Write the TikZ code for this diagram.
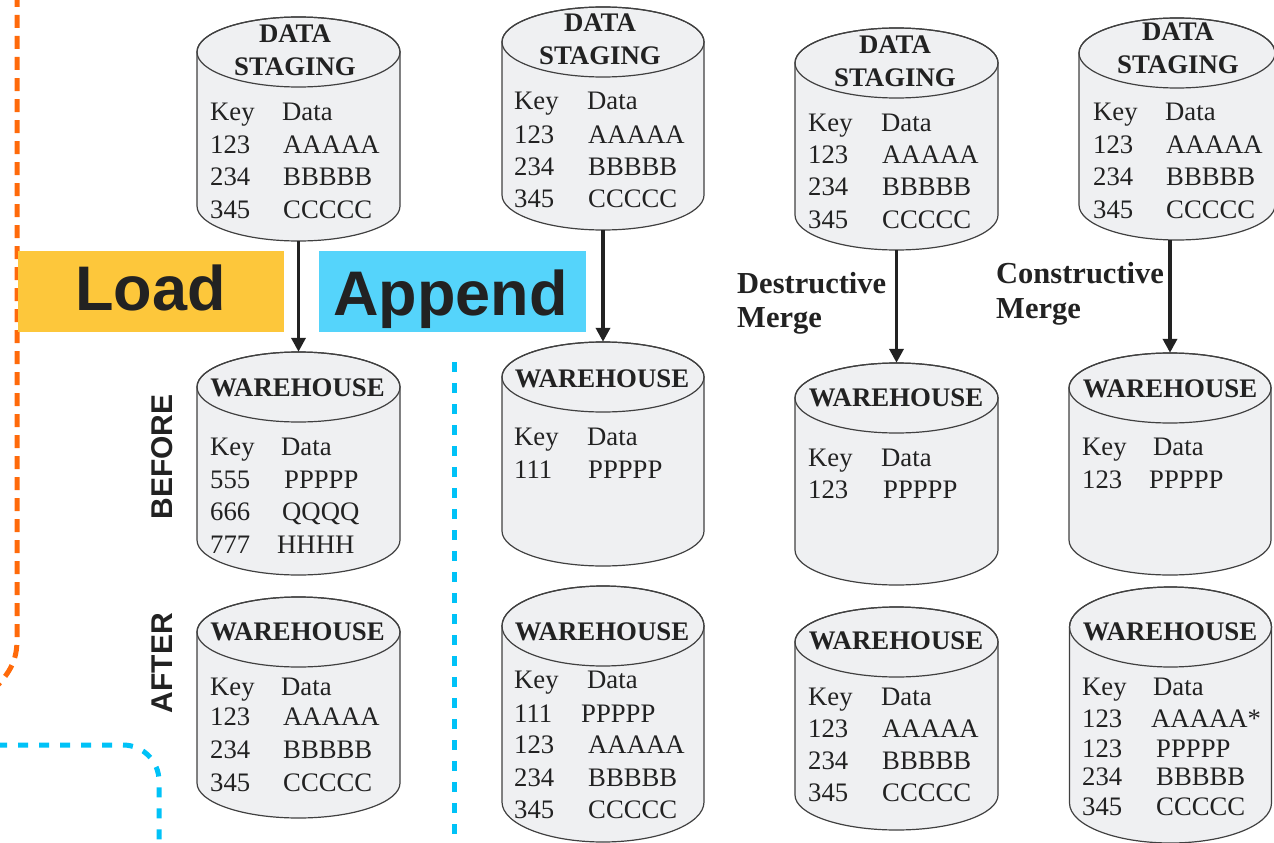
\documentclass[tikz,border=0pt]{standalone}
\usepackage{fontspec}
\setmainfont{Liberation Serif}
\newfontfamily\hv{Liberation Sans}
\usetikzlibrary{arrows.meta}
\definecolor{cylfill}{HTML}{EFF0F2}
\definecolor{cyledge}{HTML}{404040}
\definecolor{ink}{HTML}{222222}
\definecolor{dashorange}{HTML}{FF6A0A}
\definecolor{dashcyan}{HTML}{00C2F7}
\definecolor{loadyellow}{HTML}{FDC73B}
\definecolor{appendblue}{HTML}{55D4FB}
\newcounter{tnum}
\tikzset{
  cylshape/.style={fill=cylfill, draw=cyledge, line width=1.2pt},
  cylline/.style={draw=cyledge, line width=1.2pt},
  celltext/.style={anchor=base west, inner sep=0pt, text=ink, font=\fontsize{26.7}{30}\selectfont},
  titletext/.style={anchor=base, inner sep=0pt, text=ink, font=\bfseries\fontsize{26.8}{30}\selectfont},
  mergetext/.style={anchor=base west, inner sep=0pt, text=ink, font=\bfseries\fontsize{30.5}{32}\selectfont},
  bigtag/.style={anchor=base west, inner sep=0pt, text=ink, font=\hv\bfseries\fontsize{63}{70}\selectfont},
  sidetag/.style={rotate=90, inner sep=0pt, text=ink, font=\hv\bfseries\fontsize{30}{32}\selectfont},
  flow/.style={draw=ink, line width=3.5pt, -{Triangle[length=14pt,width=14pt]}},
  orangedash/.style={draw=dashorange, line width=5pt, dash pattern=on 13pt off 8pt},
  cyandash/.style={draw=dashcyan, line width=5pt, dash pattern=on 10pt off 11pt}
}
% name, cx, top, bottom, rx, ry
\newcommand\dbcyl[6]{%
  \node[inner sep=0pt, minimum width={2*#5pt}, minimum height={(#4-#3)*1pt}] (#1) at (#2,{(#3+#4)/2}) {};
  \path[cylshape] (#2-#5,#3+#6) -- (#2-#5,#4-#6) arc[start angle=180,end angle=360,x radius=#5pt,y radius=#6pt] -- (#2+#5,#3+#6) arc[start angle=0,end angle=180,x radius=#5pt,y radius=#6pt] -- cycle;
  \draw[cylline] (#2,#3+#6) ellipse[x radius=#5pt, y radius=#6pt];
}
% key x, data x, baseline y, key, data
\newcommand\cellrow[5]{%
  \stepcounter{tnum}\node[celltext] (k\arabic{tnum}) at (#1,#3) {#4};
  \node[celltext] (d\arabic{tnum}) at (#2,#3) {#5};
}
% name, x, baseline y, text
\newcommand\ttl[4]{\node[titletext] (#1) at (#2,#3) {#4};}
\begin{document}
\begin{tikzpicture}[x=1pt,y=-1pt]
\useasboundingbox (0,0) rectangle (1274,843);
% decorative dashed lines
\draw[orangedash] (17,-6) -- (17,640) .. controls (17,660) and (10,672) .. (-3,686);
\draw[cyandash, rounded corners=36pt] (-3,745) -- (159,745) -- (159,852);
\draw[cyandash] (454,362) -- (454,852);
% ---------- column 1 : Load
\dbcyl{s1}{298.5}{17}{241}{101.5}{35}
\ttl{s1a}{295}{43}{DATA}
\ttl{s1b}{295}{76}{STAGING}
\cellrow{210}{282}{120}{Key}{Data}
\cellrow{210}{283}{153}{123}{AAAAA}
\cellrow{210}{283}{185}{234}{BBBBB}
\cellrow{210}{283}{218}{345}{CCCCC}
\dbcyl{w1b}{298.5}{352}{575}{101.5}{35}
\ttl{w1bt}{297.5}{396}{WAREHOUSE}
\cellrow{210}{281}{455}{Key}{Data}
\cellrow{210}{284}{488}{555}{PPPPP}
\cellrow{210}{282}{520}{666}{QQQQ}
\cellrow{210}{277}{553}{777}{HHHH}
\dbcyl{w1a}{298.5}{597}{818}{101.5}{35}
\ttl{w1at}{297.5}{640}{WAREHOUSE}
\cellrow{210}{281}{695}{Key}{Data}
\cellrow{210}{283}{725}{123}{AAAAA}
\cellrow{210}{283}{758}{234}{BBBBB}
\cellrow{210}{283}{791}{345}{CCCCC}
% ---------- column 2 : Append
\dbcyl{s2}{603}{7}{230}{101}{35}
\ttl{s2a}{600}{32}{DATA}
\ttl{s2b}{600}{65}{STAGING}
\cellrow{514}{587}{110}{Key}{Data}
\cellrow{514}{588}{143}{123}{AAAAA}
\cellrow{514}{588}{175}{234}{BBBBB}
\cellrow{514}{588}{207}{345}{CCCCC}
\dbcyl{w2b}{603}{342}{566}{101}{35}
\ttl{w2bt}{602}{387}{WAREHOUSE}
\cellrow{514}{587}{445}{Key}{Data}
\cellrow{514}{588}{478}{111}{PPPPP}
\dbcyl{w2a}{603}{586}{842}{101}{40}
\ttl{w2at}{602}{640}{WAREHOUSE}
\cellrow{514}{587}{688}{Key}{Data}
\cellrow{514}{581}{722}{111}{PPPPP}
\cellrow{514}{588}{753}{123}{AAAAA}
\cellrow{514}{588}{786}{234}{BBBBB}
\cellrow{514}{588}{818}{345}{CCCCC}
% ---------- column 3 : Destructive merge
\dbcyl{s3}{896.5}{28}{250}{101.5}{35}
\ttl{s3a}{895}{53}{DATA}
\ttl{s3b}{895}{86}{STAGING}
\cellrow{808}{881}{131}{Key}{Data}
\cellrow{808}{882}{163}{123}{AAAAA}
\cellrow{808}{882}{195}{234}{BBBBB}
\cellrow{808}{882}{228}{345}{CCCCC}
\dbcyl{w3b}{896.5}{363}{585}{101.5}{35}
\ttl{w3bt}{896}{406}{WAREHOUSE}
\cellrow{808}{881}{466}{Key}{Data}
\cellrow{808}{883}{498}{123}{PPPPP}
\dbcyl{w3a}{896.5}{607}{830}{101.5}{35}
\ttl{w3at}{896}{649}{WAREHOUSE}
\cellrow{808}{881}{705}{Key}{Data}
\cellrow{808}{882}{737}{123}{AAAAA}
\cellrow{808}{882}{769}{234}{BBBBB}
\cellrow{808}{882}{801}{345}{CCCCC}
% ---------- column 4 : Constructive merge
\dbcyl{s4}{1177}{18}{240}{98}{35}
\ttl{s4a}{1178}{41}{DATA}
\ttl{s4b}{1178}{74}{STAGING}
\cellrow{1093}{1165}{120}{Key}{Data}
\cellrow{1093}{1166}{153}{123}{AAAAA}
\cellrow{1093}{1166}{185}{234}{BBBBB}
\cellrow{1093}{1166}{218}{345}{CCCCC}
\dbcyl{w4b}{1170}{353}{575}{101}{35}
\ttl{w4bt}{1170}{397}{WAREHOUSE}
\cellrow{1082}{1153}{455}{Key}{Data}
\cellrow{1082}{1149}{488}{123}{PPPPP}
\dbcyl{w4a}{1170.5}{587}{843}{101}{40}
\ttl{w4at}{1170}{640}{WAREHOUSE}
\cellrow{1082}{1153}{695}{Key}{Data}
\cellrow{1082}{1151}{727}{123}{AAAAA*}
\cellrow{1082}{1156}{757}{123}{PPPPP}
\cellrow{1082}{1156}{785}{234}{BBBBB}
\cellrow{1082}{1156}{815}{345}{CCCCC}
% ---------- arrows
\draw[flow] (s1.south) -- (w1b.north);
\draw[flow] (s2.south) -- (w2b.north);
\draw[flow] (w3b.north |- s3.south) -- (w3b.north);
\draw[flow] (w4b.north |- s4.south) -- (w4b.north);
% ---------- tags and labels
\node[fill=loadyellow, inner sep=0pt, minimum width=266pt, minimum height=81pt, anchor=north west] (loadbox) at (18,251) {};
\node[bigtag] (loadtxt) at (75,310) {Load};
\node[fill=appendblue, inner sep=0pt, minimum width=267pt, minimum height=81pt, anchor=north west] (appendbox) at (319,251) {};
\node[bigtag] (appendtxt) at (333,315) {Append};
\node[sidetag] (before) at (162,457) {BEFORE};
\node[sidetag] (after) at (162,663) {AFTER};
\node[mergetext] (dm1) at (737,293) {Destructive};
\node[mergetext] (dm2) at (737,327) {Merge};
\node[mergetext] (cm1) at (996,283) {Constructive};
\node[mergetext] (cm2) at (996,318) {Merge};
\end{tikzpicture}
\end{document}
